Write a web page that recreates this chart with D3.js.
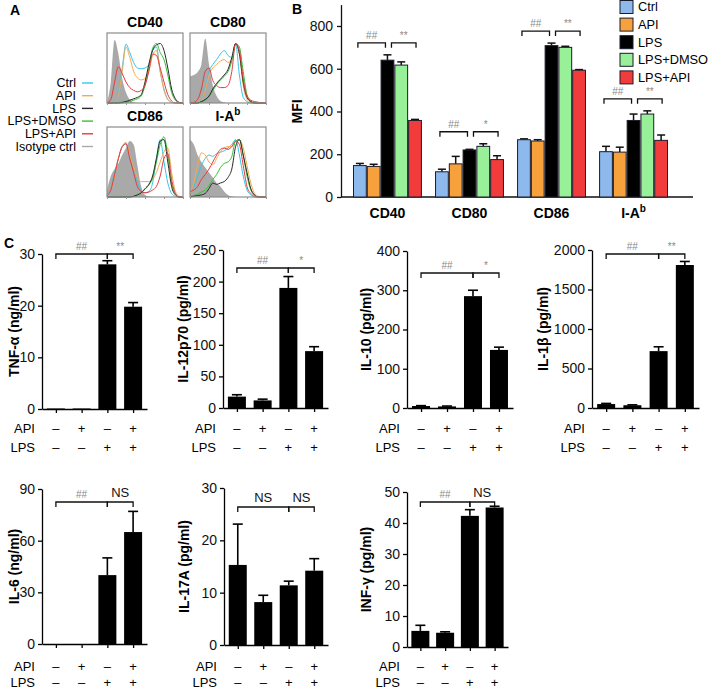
<!DOCTYPE html>
<html>
<head>
<meta charset="utf-8">
<script src="https://cdn.jsdelivr.net/npm/d3@7"></script>
<style>
  body { margin: 0; background: #fff; }
  svg { font-family: "Liberation Sans", Arial, sans-serif; }
</style>
</head>
<body>
<script>
// ---------- data ----------
const groups = ['Ctrl', 'API', 'LPS', 'LPS+DMSO', 'LPS+API'];
const markers = ['CD40', 'CD80', 'CD86', 'I-A'];
const mfiMean = [[147, 143, 640, 617, 358], [118, 155, 220, 237, 175], [268, 262, 708, 700, 593], [212, 210, 358, 388, 265]];
const mfiErr = [[10, 10, 25, 15, 5], [12, 35, 3, 12, 18], [4, 6, 12, 5, 3], [25, 23, 30, 15, 25]];
const mfiTicks = [0, 200, 400, 600, 800];
const mfiSig = [['##', '**'], ['##', '*'], ['##', '**'], ['##', '**']];

// histograms (panel A): relative counts at evenly spaced log-fluorescence bins
const histBins = [0, 0.05, 0.1, 0.15, 0.2, 0.25, 0.3, 0.35, 0.4, 0.45, 0.5, 0.55, 0.6, 0.65, 0.7, 0.75, 0.8, 0.85, 0.9, 0.95, 1];
const histLegend = ['Ctrl', 'API', 'LPS', 'LPS+DMSO', 'LPS+API', 'Isotype ctrl'];
const isoCurves = [
  [0, 0.3, 0.9, 0.7, 0.35, 0.15, 0.05, 0.01, 0, 0, 0, 0, 0, 0, 0, 0, 0, 0, 0, 0, 0],
  [0.38, 0.4, 0.44, 0.55, 0.92, 0.55, 0.25, 0.1, 0.03, 0.01, 0, 0, 0, 0, 0, 0, 0, 0, 0, 0, 0],
  [0.1, 0.3, 0.4, 0.48, 0.6, 0.7, 0.8, 0.75, 0.45, 0.15, 0.03, 0.01, 0, 0, 0, 0, 0, 0, 0, 0, 0],
  [0.82, 0.75, 0.6, 0.5, 0.42, 0.35, 0.28, 0.2, 0.15, 0.08, 0.03, 0.01, 0, 0, 0, 0, 0, 0, 0, 0, 0]
];
// order per panel: Ctrl, API, LPS, LPS+DMSO, LPS+API
const histCurves = [
  [
    [0, 0, 0.02, 0.15, 0.5, 0.84, 0.72, 0.58, 0.5, 0.49, 0.5, 0.55, 0.75, 0.8, 0.45, 0.2, 0.05, 0.01, 0, 0, 0],
    [0, 0, 0.02, 0.12, 0.45, 0.8, 0.65, 0.45, 0.36, 0.33, 0.35, 0.45, 0.68, 0.75, 0.45, 0.18, 0.05, 0.01, 0, 0, 0],
    [0, 0, 0, 0, 0.01, 0.02, 0.04, 0.06, 0.08, 0.12, 0.3, 0.55, 0.75, 0.83, 0.85, 0.75, 0.5, 0.2, 0.06, 0.01, 0],
    [0, 0, 0, 0, 0, 0.01, 0.02, 0.04, 0.06, 0.1, 0.25, 0.5, 0.78, 0.85, 0.72, 0.62, 0.4, 0.15, 0.04, 0, 0],
    [0, 0.05, 0.3, 0.52, 0.42, 0.3, 0.22, 0.18, 0.16, 0.18, 0.25, 0.45, 0.7, 0.68, 0.5, 0.3, 0.12, 0.03, 0, 0, 0]
  ],
  [
    [0, 0, 0, 0.05, 0.2, 0.45, 0.55, 0.62, 0.7, 0.75, 0.68, 0.65, 0.84, 0.4, 0.08, 0.02, 0, 0, 0, 0, 0],
    [0, 0, 0, 0.04, 0.18, 0.4, 0.5, 0.55, 0.6, 0.62, 0.58, 0.62, 0.85, 0.7, 0.25, 0.05, 0.01, 0, 0, 0, 0],
    [0, 0, 0, 0.02, 0.05, 0.1, 0.2, 0.28, 0.34, 0.4, 0.48, 0.65, 0.85, 0.7, 0.3, 0.08, 0.02, 0, 0, 0, 0],
    [0, 0, 0, 0.02, 0.04, 0.09, 0.18, 0.26, 0.33, 0.38, 0.45, 0.6, 0.85, 0.8, 0.45, 0.12, 0.03, 0, 0, 0, 0],
    [0, 0.01, 0.05, 0.2, 0.45, 0.5, 0.32, 0.25, 0.22, 0.22, 0.25, 0.45, 0.85, 0.75, 0.35, 0.1, 0.04, 0.02, 0.01, 0, 0]
  ],
  [
    [0.05, 0.12, 0.35, 0.55, 0.72, 0.76, 0.55, 0.4, 0.22, 0.1, 0.06, 0.08, 0.2, 0.55, 0.82, 0.5, 0.2, 0.05, 0.01, 0, 0],
    [0.03, 0.1, 0.3, 0.55, 0.72, 0.78, 0.6, 0.42, 0.28, 0.22, 0.22, 0.22, 0.25, 0.35, 0.5, 0.65, 0.7, 0.35, 0.08, 0.01, 0],
    [0, 0, 0, 0, 0, 0, 0, 0.01, 0.03, 0.06, 0.12, 0.18, 0.3, 0.55, 0.8, 0.82, 0.5, 0.15, 0.03, 0, 0],
    [0, 0, 0, 0, 0, 0, 0, 0.01, 0.03, 0.06, 0.11, 0.17, 0.27, 0.5, 0.75, 0.86, 0.6, 0.2, 0.04, 0, 0],
    [0.02, 0.1, 0.32, 0.55, 0.72, 0.76, 0.55, 0.35, 0.15, 0.08, 0.06, 0.07, 0.1, 0.15, 0.3, 0.55, 0.62, 0.25, 0.05, 0, 0]
  ],
  [
    [0.05, 0.15, 0.3, 0.45, 0.55, 0.6, 0.58, 0.62, 0.64, 0.66, 0.7, 0.75, 0.82, 0.6, 0.3, 0.1, 0.03, 0, 0, 0, 0],
    [0.05, 0.2, 0.45, 0.63, 0.6, 0.5, 0.46, 0.55, 0.65, 0.7, 0.72, 0.72, 0.8, 0.82, 0.7, 0.45, 0.2, 0.05, 0.01, 0, 0],
    [0, 0.01, 0.02, 0.03, 0.05, 0.12, 0.2, 0.18, 0.2, 0.22, 0.28, 0.4, 0.72, 0.82, 0.6, 0.35, 0.12, 0.03, 0, 0, 0],
    [0.01, 0.02, 0.04, 0.07, 0.1, 0.16, 0.25, 0.32, 0.42, 0.48, 0.5, 0.58, 0.8, 0.82, 0.6, 0.3, 0.1, 0.02, 0, 0, 0],
    [0.08, 0.1, 0.15, 0.25, 0.32, 0.4, 0.5, 0.6, 0.68, 0.7, 0.68, 0.72, 0.8, 0.75, 0.45, 0.15, 0.05, 0.01, 0, 0, 0]
  ]
];

// panel C
const cytoLabels = ['TNF-α (ng/ml)', 'IL-12p70 (pg/ml)', 'IL-10 (pg/ml)', 'IL-1β (pg/ml)', 'IL-6 (ng/ml)', 'IL-17A (pg/ml)', 'INF-γ (pg/ml)'];
const cytoTicks = [[0, 10, 20, 30], [0, 50, 100, 150, 200, 250], [0, 100, 200, 300, 400], [0, 500, 1000, 1500, 2000], [0, 30, 60, 90], [0, 10, 20, 30], [0, 10, 20, 30, 40, 50]];
const cytoMeans = [[0.1, 0.1, 28, 19.8], [18, 12, 190, 90], [5, 4, 285, 148], [50, 35, 720, 1810], [0, 0, 40, 65], [15.3, 8.2, 11.4, 14.2], [5.2, 4.6, 42.3, 45]];
const cytoErrs = [[0, 0, 0.7, 0.8], [3, 2, 18, 7], [1, 1, 15, 7], [8, 5, 55, 45], [0, 0, 10, 12], [7.8, 1.3, 0.8, 2.3], [1.8, 0.3, 2, 0.4]];
const cytoSig = [['##', '**'], ['##', '*'], ['##', '*'], ['##', '**'], ['##', 'NS'], ['NS', 'NS'], ['##', 'NS']];
const apiSigns = ['–', '+', '–', '+'];
const lpsSigns = ['–', '–', '+', '+'];

// ---------- styles / layout ----------
const barColors = ['#8db9ec', '#f7a13c', '#000000', '#98f098', '#f23c3c'];
const lineColors = ['#38c4ea', '#f7a850', '#2a2a2a', '#33c433', '#e8383c', '#aaaaaa'];
const sigGrey = '#8a8a8a';

const svg = d3.select('body').append('svg')
  .attr('width', 709)
  .attr('height', 691);

function panelLetter(t, x, y) {
  svg.append('text').attr('x', x).attr('y', y)
    .style('font-size', '14px').style('font-weight', 'bold').text(t);
}

function bracket(g, x1, x2, y, label) {
  g.append('path')
    .attr('d', 'M' + x1 + ',' + (y + 5) + 'V' + y + 'H' + x2 + 'V' + (y + 5))
    .attr('fill', 'none').attr('stroke', '#111').attr('stroke-width', 1.3);
  const ns = label === 'NS';
  g.append('text')
    .attr('x', (x1 + x2) / 2).attr('y', ns ? y - 5 : y - 4)
    .attr('text-anchor', 'middle')
    .style('font-size', ns ? '13px' : '10px')
    .style('fill', ns ? '#111' : sigGrey)
    .text(label);
}

// ---------- panel A ----------
panelLetter('A', 10, 15);

const boxes = [
  { x: 107, y: 33, title: 'CD40' },
  { x: 190, y: 33, title: 'CD80' },
  { x: 107, y: 127, title: 'CD86' },
  { x: 190, y: 127, title: 'I-A' }
];
const boxW = 76, boxH = 70;

boxes.forEach(function (b, k) {
  const g = svg.append('g').attr('transform', 'translate(' + b.x + ',' + b.y + ')');
  const hx = d3.scaleLinear().domain([0, 1]).range([0, boxW]);
  const hy = d3.scaleLinear().domain([0, 1]).range([boxH, 0]);

  g.append('path')
    .datum(isoCurves[k])
    .attr('d', d3.area().x((d, i) => hx(histBins[i])).y0(boxH).y1(d => hy(d)).curve(d3.curveMonotoneX))
    .attr('fill', '#a9a9a9');

  [0, 1, 3, 2, 4].forEach(function (s) {
    g.append('path')
      .datum(histCurves[k][s])
      .attr('d', d3.line().x((d, i) => hx(histBins[i])).y(d => hy(d)).curve(d3.curveMonotoneX))
      .attr('fill', 'none')
      .attr('stroke', lineColors[s])
      .attr('stroke-width', 1);
  });

  g.append('rect').attr('width', boxW).attr('height', boxH)
    .attr('fill', 'none').attr('stroke', '#8c8c8c').attr('stroke-width', 1.2);

  const logX = d3.scaleLog().domain([1, 10000]).range([0, boxW]);
  g.append('g').attr('transform', 'translate(0,' + boxH + ')')
    .call(d3.axisBottom(logX).tickValues([1, 10, 100, 1000, 10000]).tickSize(2).tickFormat(''))
    .call(a => a.select('.domain').remove())
    .call(a => a.selectAll('line').attr('stroke', '#999'));

  const t = svg.append('text')
    .attr('x', b.x + boxW / 2).attr('y', b.y - 6)
    .attr('text-anchor', 'middle')
    .style('font-size', '14px').style('font-weight', 'bold')
    .text(b.title);
  if (b.title === 'I-A') {
    t.append('tspan').attr('dy', -6).style('font-size', '10px').text('b');
  }
});

histLegend.forEach(function (name, i) {
  const y = 83 + i * 12.7;
  svg.append('text').attr('x', 76).attr('y', y).attr('dy', '0.35em')
    .attr('text-anchor', 'end').style('font-size', '12.5px').text(name);
  svg.append('line').attr('x1', 82).attr('x2', 93).attr('y1', y).attr('y2', y)
    .attr('stroke', lineColors[i]).attr('stroke-width', 1.4);
});

// ---------- panel B ----------
panelLetter('B', 292, 14);

const bx = d3.scaleBand().domain(markers).range([353, 668]).paddingInner(0.16).paddingOuter(0);
const bxi = d3.scaleBand().domain(groups).range([0, bx.bandwidth()]);
const by = d3.scaleLinear().domain([0, 900]).range([197, 4.6]);
const gB = svg.append('g');

gB.append('g').attr('transform', 'translate(341,0)')
  .call(d3.axisLeft(by).tickValues(mfiTicks).tickSize(4).tickSizeOuter(0).tickPadding(4))
  .call(a => a.selectAll('text').style('font-size', '14px').style('fill', '#111'))
  .call(a => a.selectAll('path,line').attr('stroke', '#111').attr('stroke-width', 1.3));

gB.append('line').attr('x1', 341).attr('x2', 693).attr('y1', 197).attr('y2', 197)
  .attr('stroke', '#111').attr('stroke-width', 1.3);

gB.append('text')
  .attr('transform', 'translate(302,' + by(400) + ') rotate(-90)')
  .attr('text-anchor', 'middle')
  .style('font-size', '14px').style('font-weight', 'bold').text('MFI');

markers.forEach(function (m, k) {
  const g = gB.append('g').attr('transform', 'translate(' + bx(m) + ',0)');
  groups.forEach(function (grp, s) {
    const x = bxi(grp), w = bxi.bandwidth();
    const v = mfiMean[k][s], e = mfiErr[k][s];
    const cx = x + w / 2;
    g.append('line').attr('x1', cx).attr('x2', cx).attr('y1', by(v)).attr('y2', by(v + e))
      .attr('stroke', '#111').attr('stroke-width', 1.5);
    g.append('line').attr('x1', cx - 4).attr('x2', cx + 4).attr('y1', by(v + e)).attr('y2', by(v + e))
      .attr('stroke', '#111').attr('stroke-width', 1.5);
    g.append('rect').attr('x', x + 0.5).attr('y', by(v)).attr('width', w - 1).attr('height', by(0) - by(v))
      .attr('fill', barColors[s]).attr('stroke', '#1b1b2b').attr('stroke-width', 1);
  });
  const c = s => bxi(groups[s]) + bxi.bandwidth() / 2;
  const top = d3.max(mfiMean[k].map((v, i) => v + mfiErr[k][i]));
  const yb = by(top) - 12;
  bracket(g, c(0) - 2, c(2) - 2, yb, mfiSig[k][0]);
  bracket(g, c(2) + 4, c(4) + 1, yb, mfiSig[k][1]);

  const lab = gB.append('text')
    .attr('x', bx(m) + bx.bandwidth() / 2).attr('y', 218)
    .attr('text-anchor', 'middle')
    .style('font-size', '14px').style('font-weight', 'bold').text(m);
  if (m === 'I-A') lab.append('tspan').attr('dy', -6).style('font-size', '10px').text('b');
});

groups.forEach(function (grp, i) {
  const y = 7 + i * 17.6;
  gB.append('rect').attr('x', 620).attr('y', y - 6.5).attr('width', 13).attr('height', 13)
    .attr('fill', barColors[i]).attr('stroke', '#1b1b2b').attr('stroke-width', 1);
  gB.append('text').attr('x', 638).attr('y', y).attr('dy', '0.35em')
    .style('font-size', '12.8px').text(grp);
});

// ---------- panel C ----------
panelLetter('C', 4, 248);

const cPanels = [
  { ax: 42, end: 147, y0: 409, yTop: 254, by: 254, tx: 14, api: 428, lps: 447 },
  { ax: 223, end: 328, y0: 408, yTop: 250, by: 268, tx: 183, api: 428, lps: 447 },
  { ax: 407, end: 513, y0: 408, yTop: 251, by: 273, tx: 366, api: 428, lps: 447 },
  { ax: 592, end: 699, y0: 408, yTop: 250, by: 254, tx: 543, api: 428, lps: 447 },
  { ax: 42, end: 147, y0: 644, yTop: 489, by: 502, tx: 14, api: 666, lps: 682 },
  { ax: 224, end: 328, y0: 645, yTop: 488, by: 507, tx: 184, api: 666, lps: 682 },
  { ax: 407, end: 508, y0: 647, yTop: 492, by: 502, tx: 366, api: 666, lps: 682 }
];

cPanels.forEach(function (p, k) {
  const g = svg.append('g');
  const ticks = cytoTicks[k];
  const y = d3.scaleLinear().domain([0, ticks[ticks.length - 1]]).range([p.y0, p.yTop]);
  const x = d3.scalePoint().domain([0, 1, 2, 3]).range([p.ax, p.end]).padding(0.54);
  const bw = 18;

  cytoMeans[k].forEach(function (v, i) {
    const e = cytoErrs[k][i];
    const cx = x(i);
    if (e > 0) {
      g.append('line').attr('x1', cx).attr('x2', cx).attr('y1', y(v)).attr('y2', y(v + e))
        .attr('stroke', '#000').attr('stroke-width', 1.6);
      g.append('line').attr('x1', cx - 5).attr('x2', cx + 5).attr('y1', y(v + e)).attr('y2', y(v + e))
        .attr('stroke', '#000').attr('stroke-width', 1.6);
    }
    if (v > 0) {
      g.append('rect').attr('x', cx - bw / 2).attr('y', y(v)).attr('width', bw)
        .attr('height', Math.max(1, p.y0 - y(v))).attr('fill', '#000');
    }
  });

  g.append('g').attr('transform', 'translate(' + p.ax + ',0)')
    .call(d3.axisLeft(y).tickValues(ticks).tickSize(4).tickSizeOuter(0).tickPadding(3).tickFormat(d3.format('d')))
    .call(a => a.selectAll('text').style('font-size', '14px').style('fill', '#111'))
    .call(a => a.selectAll('path,line').attr('stroke', '#000').attr('stroke-width', 1.3));

  g.append('g').attr('transform', 'translate(0,' + p.y0 + ')')
    .call(d3.axisBottom(x).tickSize(4).tickSizeOuter(0).tickFormat(''))
    .call(a => a.selectAll('path,line').attr('stroke', '#000').attr('stroke-width', 1.3));

  g.append('text')
    .attr('transform', 'translate(' + p.tx + ',' + (p.y0 + p.yTop) / 2 + ') rotate(-90)')
    .attr('text-anchor', 'middle').attr('dy', '0.35em')
    .style('font-size', '14px').style('font-weight', 'bold')
    .text(cytoLabels[k]);

  bracket(g, x(0), x(2), p.by, cytoSig[k][0]);
  bracket(g, x(2), x(3), p.by, cytoSig[k][1]);

  g.append('text').attr('x', p.ax - 7).attr('y', p.api).attr('dy', '0.35em')
    .attr('text-anchor', 'end').style('font-size', '13px').text('API');
  g.append('text').attr('x', p.ax - 7).attr('y', p.lps).attr('dy', '0.35em')
    .attr('text-anchor', 'end').style('font-size', '13px').text('LPS');
  apiSigns.forEach(function (s, i) {
    g.append('text').attr('x', x(i)).attr('y', p.api).attr('dy', '0.35em')
      .attr('text-anchor', 'middle').style('font-size', '13px').text(s);
    g.append('text').attr('x', x(i)).attr('y', p.lps).attr('dy', '0.35em')
      .attr('text-anchor', 'middle').style('font-size', '13px').text(lpsSigns[i]);
  });
});
</script>
</body>
</html>
